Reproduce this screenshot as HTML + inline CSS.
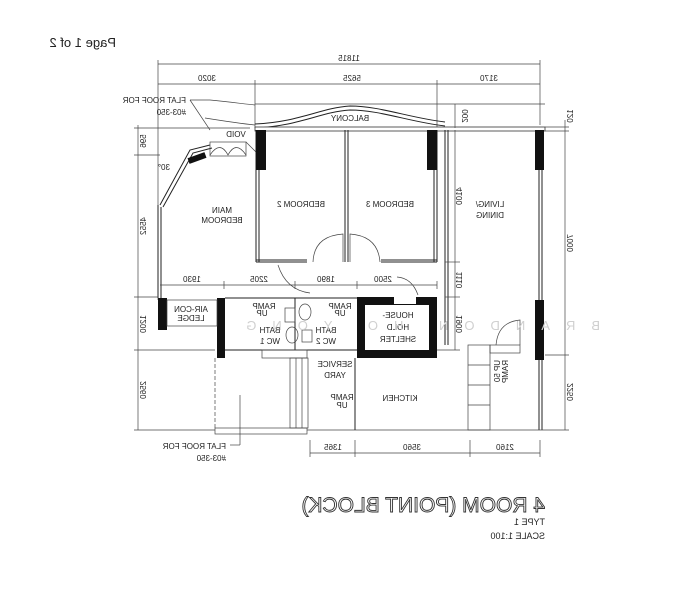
<!DOCTYPE html>
<html><head><meta charset="utf-8"><style>
body{margin:0;background:#fff}
svg{display:block}
text{font-family:"Liberation Sans",sans-serif;fill:#222}
.m{font-size:8px}
</style></head><body>
<svg width="686" height="600" viewBox="0 0 686 600" xmlns="http://www.w3.org/2000/svg">
<defs>
<style>.l{stroke:#222;stroke-width:1;fill:none}.t{stroke:#444;stroke-width:0.7;fill:none}</style>
</defs>
<text transform="translate(116,47) scale(-1,1)" font-size="13">Page 1 of 2</text>

<line class="t" x1="158" y1="64" x2="540" y2="64"/>
<line class="t" x1="158" y1="84" x2="540" y2="84"/>
<g class="t"><line x1="158" y1="60" x2="158" y2="300"/><line x1="540" y1="60" x2="540" y2="125"/><line x1="255" y1="80" x2="255" y2="128"/><line x1="437" y1="80" x2="437" y2="128"/></g>
<text class="m" transform="translate(349,61) scale(-1,1)" text-anchor="middle">11815</text>
<text class="m" transform="translate(207,81) scale(-1,1)" text-anchor="middle">3020</text>
<text class="m" transform="translate(352,81) scale(-1,1)" text-anchor="middle">5625</text>
<text class="m" transform="translate(489,81) scale(-1,1)" text-anchor="middle">3170</text>

<line class="t" x1="255" y1="104" x2="545" y2="104"/>
<path class="l" d="M255,124 C300,122 320,108 350,106 C380,106 410,118 445,122"/>
<path class="l" d="M255,128 C300,126 320,112 350,110 C380,110 410,122 445,126"/>
<path class="t" d="M210,100 C230,102 245,104 255,105"/><path class="t" d="M205,118 C230,122 245,124 255,125"/>
<text class="m" transform="translate(350,121) scale(-1,1)" text-anchor="middle">BALCONY</text>
<rect x="255" y="127" width="290" height="4" fill="#fff" stroke="#333" stroke-width="0.8"/>
<line class="t" x1="455" y1="104" x2="455" y2="128"/>
<text class="m" transform="translate(462,116) scale(-1,1) rotate(-90)" text-anchor="middle">200</text>

<line class="t" x1="190" y1="100" x2="210" y2="100"/><line class="t" x1="190" y1="100" x2="210" y2="130"/>
<text class="m" transform="translate(186,103) scale(-1,1)">FLAT ROOF FOR</text>
<text class="m" transform="translate(186,115) scale(-1,1)">#03-350</text>
<text class="m" font-size="7" transform="translate(236,137) scale(-1,1)" text-anchor="middle">VOID</text>
<path class="l" d="M160,205 L190,150 L210,145 M163,207 L193,153 L212,148"/>
<rect x="188" y="155" width="18" height="6" transform="rotate(-20 197 158)" fill="#111"/>
<rect x="210" y="142" width="36" height="14" class="t"/>
<path class="t" d="M210,155 Q220,140 228,155 Q236,140 246,155 M246,142 L256,152"/>
<text class="m" transform="translate(170,170) scale(-1,1)">30°</text>

<g class="l">
<line x1="158" y1="205" x2="158" y2="298"/><line x1="161" y1="207" x2="161" y2="298"/>
<line x1="256" y1="130" x2="256" y2="262"/><line x1="259" y1="130" x2="259" y2="262"/>
<line x1="345" y1="130" x2="345" y2="262"/><line x1="348" y1="130" x2="348" y2="262"/>
<line x1="434" y1="130" x2="434" y2="262"/><line x1="437" y1="130" x2="437" y2="262"/>
<line x1="256" y1="260" x2="307" y2="260"/><line x1="256" y1="262" x2="307" y2="262"/>
<line x1="381" y1="260" x2="437" y2="260"/><line x1="381" y1="262" x2="437" y2="262"/>
<line x1="445" y1="130" x2="445" y2="345"/><line x1="448" y1="130" x2="448" y2="345"/>
<line x1="539" y1="130" x2="539" y2="430"/><line x1="542" y1="130" x2="542" y2="430"/>
</g>
<rect x="256" y="130" width="10" height="40" fill="#111"/>
<rect x="427" y="130" width="10" height="40" fill="#111"/>
<rect x="535" y="130" width="9" height="40" fill="#111"/>
<rect x="535" y="300" width="9" height="60" fill="#111"/>
<path class="t" d="M313,262 Q314,236 343,234 L343,262 M350,262 L350,234 Q378,236 380,262"/>
<path class="t" d="M278,265 Q286,290 310,293"/>
<path class="t" d="M397,277 Q412,278 418,295"/>

<text class="m" font-size="9" transform="translate(222,213) scale(-1,1)" text-anchor="middle">MAIN</text>
<text class="m" font-size="9" transform="translate(222,223) scale(-1,1)" text-anchor="middle">BEDROOM</text>
<text class="m" font-size="9" transform="translate(301,207) scale(-1,1)" text-anchor="middle">BEDROOM 2</text>
<text class="m" font-size="9" transform="translate(390,207) scale(-1,1)" text-anchor="middle">BEDROOM 3</text>
<text class="m" font-size="9" transform="translate(490,207) scale(-1,1)" text-anchor="middle">LIVING/</text>
<text class="m" font-size="9" transform="translate(490,218) scale(-1,1)" text-anchor="middle">DINING</text>

<line class="t" x1="160" y1="285" x2="437" y2="285"/>
<g class="t"><line x1="224" y1="281" x2="224" y2="289"/><line x1="295" y1="281" x2="295" y2="289"/><line x1="357" y1="281" x2="357" y2="289"/><line x1="437" y1="281" x2="437" y2="289"/></g>
<text class="m" transform="translate(192,282) scale(-1,1)" text-anchor="middle">1930</text>
<text class="m" transform="translate(259,282) scale(-1,1)" text-anchor="middle">2205</text>
<text class="m" transform="translate(326,282) scale(-1,1)" text-anchor="middle">1890</text>
<text class="m" transform="translate(383,282) scale(-1,1)" text-anchor="middle">2500</text>

<rect x="158" y="298" width="9" height="32" fill="#111"/>
<rect x="217" y="298" width="8" height="60" fill="#111"/>
<rect x="167" y="300" width="50" height="26" class="t"/>
<text class="m" font-size="7" transform="translate(191,312) scale(-1,1)" text-anchor="middle">AIR-CON</text>
<text class="m" font-size="7" transform="translate(191,321) scale(-1,1)" text-anchor="middle">LEDGE</text>
<g class="l"><line x1="225" y1="298" x2="357" y2="298"/><line x1="225" y1="350" x2="357" y2="350"/><line x1="295" y1="298" x2="295" y2="350"/></g>
<rect x="285" y="308" width="10" height="14" class="t"/><rect x="302" y="330" width="10" height="12" class="t"/>
<ellipse cx="292" cy="335" rx="6" ry="8" class="t"/><ellipse cx="305" cy="312" rx="6" ry="8" class="t"/>
<text class="m" transform="translate(270,333) scale(-1,1)" text-anchor="middle">BATH</text>
<text class="m" transform="translate(270,344) scale(-1,1)" text-anchor="middle">WC 1</text>
<text class="m" transform="translate(326,333) scale(-1,1)" text-anchor="middle">BATH</text>
<text class="m" transform="translate(326,344) scale(-1,1)" text-anchor="middle">WC 2</text>
<text class="m" font-size="6" transform="translate(264,309) scale(-1,1)" text-anchor="middle">RAMP</text>
<text class="m" font-size="6" transform="translate(262,316) scale(-1,1)" text-anchor="middle">UP</text>
<text class="m" font-size="6" transform="translate(340,309) scale(-1,1)" text-anchor="middle">RAMP</text>
<text class="m" font-size="6" transform="translate(340,316) scale(-1,1)" text-anchor="middle">UP</text>
<rect x="361" y="301" width="72" height="53" fill="none" stroke="#111" stroke-width="8"/>
<rect x="394" y="296" width="22" height="8" fill="#fff"/>
<text class="m" font-size="9" transform="translate(398,318) scale(-1,1)" text-anchor="middle">HOUSE-</text>
<text class="m" font-size="9" transform="translate(398,330) scale(-1,1)" text-anchor="middle">HOLD</text>
<text class="m" font-size="9" transform="translate(398,342) scale(-1,1)" text-anchor="middle">SHELTER</text>

<line x1="215" y1="358" x2="215" y2="428" stroke="#444" stroke-dasharray="4,2" stroke-width="0.7"/>
<rect x="262" y="350" width="45" height="8" class="t"/>
<rect x="290" y="358" width="18" height="70" class="t"/>
<line class="t" x1="296" y1="358" x2="296" y2="428"/><line class="t" x1="302" y1="358" x2="302" y2="428"/>
<rect x="215" y="428" width="92" height="6" class="t"/>
<line class="t" x1="307" y1="430" x2="490" y2="430"/>
<line class="l" x1="355" y1="358" x2="355" y2="430"/>
<text class="m" transform="translate(335,367) scale(-1,1)" text-anchor="middle">SERVICE</text>
<text class="m" transform="translate(335,378) scale(-1,1)" text-anchor="middle">YARD</text>
<text class="m" font-size="6" transform="translate(342,400) scale(-1,1)" text-anchor="middle">RAMP</text>
<text class="m" font-size="6" transform="translate(342,408) scale(-1,1)" text-anchor="middle">UP</text>
<text class="m" font-size="9" transform="translate(400,401) scale(-1,1)" text-anchor="middle">KITCHEN</text>
<rect x="468" y="345" width="22" height="85" class="t"/>
<g class="t"><line x1="468" y1="365" x2="490" y2="365"/><line x1="468" y1="385" x2="490" y2="385"/><line x1="468" y1="405" x2="490" y2="405"/></g>
<rect x="490" y="345" width="30" height="8" class="t"/>
<path class="t" d="M496,345 Q498,322 520,320 L520,345"/>
<text class="m" font-size="6" transform="translate(508,360) scale(-1,1) rotate(90)">RAMP</text>
<text class="m" font-size="6" transform="translate(500,360) scale(-1,1) rotate(90)">UP 50</text>
<line class="t" x1="240" y1="395" x2="240" y2="445"/><line class="t" x1="230" y1="445" x2="240" y2="445"/>
<text class="m" transform="translate(226,449) scale(-1,1)">FLAT ROOF FOR</text>
<text class="m" transform="translate(226,461) scale(-1,1)">#03-350</text>

<line class="t" x1="310" y1="453" x2="540" y2="453"/>
<g class="t"><line x1="310" y1="440" x2="310" y2="457"/><line x1="355" y1="440" x2="355" y2="457"/><line x1="470" y1="440" x2="470" y2="457"/><line x1="540" y1="440" x2="540" y2="457"/></g>
<text class="m" transform="translate(333,450) scale(-1,1)" text-anchor="middle">1365</text>
<text class="m" transform="translate(412,450) scale(-1,1)" text-anchor="middle">3560</text>
<text class="m" transform="translate(505,450) scale(-1,1)" text-anchor="middle">2160</text>

<line class="t" x1="138" y1="125" x2="138" y2="430"/>
<g class="t"><line x1="134" y1="128" x2="250" y2="128"/><line x1="134" y1="155" x2="160" y2="155"/><line x1="134" y1="297" x2="158" y2="297"/><line x1="134" y1="350" x2="215" y2="350"/><line x1="134" y1="430" x2="215" y2="430"/></g>
<text class="m" transform="translate(146,141) scale(-1,1) rotate(90)" text-anchor="middle">596</text>
<text class="m" transform="translate(146,226) scale(-1,1) rotate(90)" text-anchor="middle">4552</text>
<text class="m" transform="translate(146,324) scale(-1,1) rotate(90)" text-anchor="middle">1200</text>
<text class="m" transform="translate(146,390) scale(-1,1) rotate(90)" text-anchor="middle">2560</text>
<line class="t" x1="565" y1="120" x2="565" y2="430"/>
<g class="t"><line x1="545" y1="127" x2="569" y2="127"/><line x1="545" y1="131" x2="569" y2="131"/><line x1="545" y1="355" x2="569" y2="355"/><line x1="490" y1="430" x2="569" y2="430"/></g>
<text class="m" transform="translate(573,116) scale(-1,1) rotate(90)" text-anchor="middle">120</text>
<text class="m" transform="translate(573,243) scale(-1,1) rotate(90)" text-anchor="middle">7000</text>
<text class="m" transform="translate(573,392) scale(-1,1) rotate(90)" text-anchor="middle">2250</text>
<line class="t" x1="455" y1="130" x2="455" y2="350"/>
<g class="t"><line x1="445" y1="262" x2="460" y2="262"/><line x1="445" y1="297" x2="460" y2="297"/><line x1="437" y1="350" x2="460" y2="350"/></g>
<text class="m" transform="translate(462,196) scale(-1,1) rotate(90)" text-anchor="middle">4100</text>
<text class="m" transform="translate(462,280) scale(-1,1) rotate(90)" text-anchor="middle">1110</text>
<text class="m" transform="translate(462,324) scale(-1,1) rotate(90)" text-anchor="middle">1900</text>

<text transform="translate(600,330) scale(-1,1)" font-size="13" style="fill:#d0d0d0;letter-spacing:16px">BRANDON HO YONG</text>

<text transform="translate(545,512) scale(-1,1)" font-size="21" style="fill:#fff;stroke:#333;stroke-width:0.9">4 ROOM (POINT BLOCK)</text>
<text transform="translate(545,525) scale(-1,1)" font-size="9">TYPE 1</text>
<text transform="translate(545,539) scale(-1,1)" font-size="9">SCALE 1:100</text>
</svg>
</body></html>
